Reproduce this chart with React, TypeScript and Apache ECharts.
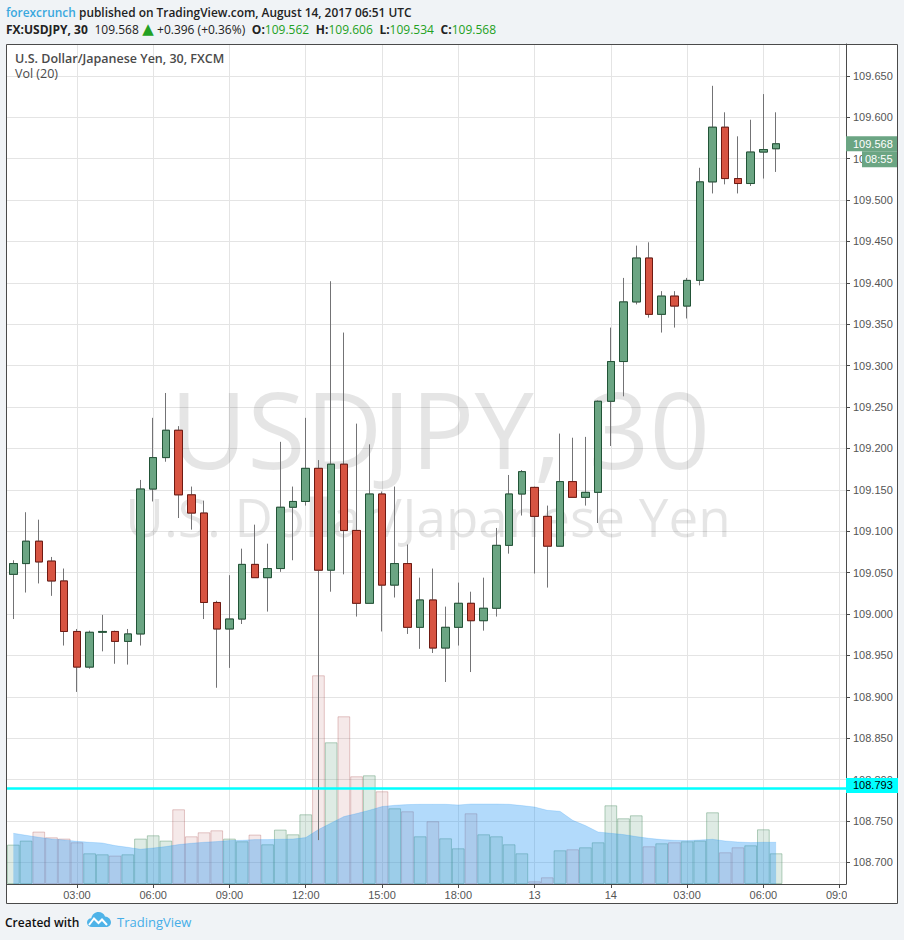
import React, { useEffect, useRef } from "react";
import * as echarts from "echarts";

// ---------- DATA ----------
const categories = [
  "11 00:30", "11 01:00", "11 01:30", "11 02:00", "11 02:30", "11 03:00", "11 03:30", "11 04:00", "11 04:30", "11 05:00",
  "11 05:30", "11 06:00", "11 06:30", "11 07:00", "11 07:30", "11 08:00", "11 08:30", "11 09:00", "11 09:30", "11 10:00",
  "11 10:30", "11 11:00", "11 11:30", "11 12:00", "11 12:30", "11 13:00", "11 13:30", "11 14:00", "11 14:30", "11 15:00",
  "11 15:30", "11 16:00", "11 16:30", "11 17:00", "11 17:30", "11 18:00", "11 18:30", "11 19:00", "11 19:30", "11 20:00",
  "11 20:30", "13 21:00", "13 21:30", "13 22:00", "13 22:30", "13 23:00", "13 23:30", "14 00:00", "14 00:30", "14 01:00",
  "14 01:30", "14 02:00", "14 02:30", "14 03:00", "14 03:30", "14 04:00", "14 04:30", "14 05:00", "14 05:30", "14 06:00",
  "14 06:30", "14 07:00", "14 07:30", "14 08:00", "14 08:30", "14 09:00",
];
const xTickIndex = [5, 11, 17, 23, 29, 35, 41, 47, 53, 59, 65];
const xTickLabels = ["03:00", "06:00", "09:00", "12:00", "15:00", "18:00", "13", "14", "03:00", "06:00", "09:00"];

const opens = [
  109.048, 109.061, 109.088, 109.064, 109.040, 108.979, 108.936, 108.978, 108.979, 108.967,
  108.976, 109.151, 109.189, 109.222, 109.144, 109.122, 109.014, 108.982, 108.994, 109.060,
  109.044, 109.055, 109.129, 109.136, 109.176, 109.053, 109.181, 109.101, 109.013, 109.145,
  109.035, 109.061, 108.984, 109.017, 108.959, 108.984, 109.013, 108.992, 109.007, 109.083,
  109.145, 109.153, 109.118, 109.082, 109.160, 109.141, 109.147, 109.257, 109.305, 109.377,
  109.430, 109.362, 109.384, 109.372, 109.403, 109.522, 109.588, 109.526, 109.520, 109.558,
  109.562,
];
const highs = [
  109.065, 109.123, 109.114, 109.069, 109.055, 108.982, 108.980, 108.999, 108.980, 108.982,
  109.162, 109.237, 109.267, 109.227, 109.154, 109.137, 109.016, 109.047, 109.079, 109.108,
  109.085, 109.208, 109.154, 109.237, 109.186, 109.402, 109.340, 109.230, 109.205, 109.148,
  109.154, 109.084, 109.044, 109.055, 109.009, 109.038, 109.027, 109.044, 109.104, 109.168,
  109.174, 109.154, 109.131, 109.218, 109.213, 109.214, 109.258, 109.346, 109.406, 109.445,
  109.449, 109.390, 109.390, 109.406, 109.539, 109.638, 109.606, 109.577, 109.597, 109.628,
  109.606,
];
const lows = [
  108.994, 109.026, 109.037, 109.022, 108.962, 108.906, 108.934, 108.955, 108.940, 108.939,
  108.962, 109.136, 109.184, 109.116, 109.102, 108.994, 108.911, 108.935, 108.988, 109.044,
  109.003, 109.051, 109.065, 109.131, 108.727, 109.027, 109.048, 108.997, 109.013, 108.979,
  109.020, 108.976, 108.958, 108.953, 108.918, 108.962, 108.930, 108.980, 108.997, 109.073,
  109.119, 109.049, 109.032, 109.082, 109.141, 109.131, 109.110, 109.203, 109.263, 109.374,
  109.358, 109.340, 109.346, 109.357, 109.397, 109.508, 109.519, 109.508, 109.517, 109.526,
  109.534,
];
const closes = [
  109.061, 109.088, 109.063, 109.040, 108.979, 108.936, 108.978, 108.979, 108.967, 108.976,
  109.151, 109.189, 109.222, 109.144, 109.122, 109.014, 108.982, 108.994, 109.060, 109.044,
  109.055, 109.129, 109.136, 109.176, 109.053, 109.181, 109.101, 109.013, 109.145, 109.035,
  109.061, 108.984, 109.017, 108.959, 108.984, 109.013, 108.992, 109.007, 109.083, 109.145,
  109.172, 109.118, 109.082, 109.160, 109.141, 109.147, 109.257, 109.305, 109.377, 109.430,
  109.362, 109.384, 109.372, 109.403, 109.522, 109.588, 109.526, 109.520, 109.558, 109.561,
  109.568,
];
const volumes = [
  394, 434, 524, 467, 454, 417, 307, 297, 284, 297,
  454, 487, 434, 747, 477, 517, 537, 454, 427, 494,
  397, 544, 497, 697, 2087, 1417, 1677, 1077, 1087, 927,
  757, 727, 477, 627, 457, 357, 707, 497, 477, 397,
  307, 27, 67, 337, 347, 367, 417, 787, 657, 687,
  377, 407, 417, 427, 434, 717, 317, 367, 387, 547,
  307,
];
const volumeMA = [
  507, 487, 467, 450, 440, 427, 417, 410, 384, 367,
  347, 360, 374, 394, 407, 417, 424, 434, 437, 444,
  444, 447, 450, 464, 544, 610, 674, 704, 737, 774,
  787, 794, 797, 797, 797, 790, 800, 800, 800, 797,
  784, 770, 737, 727, 637, 584, 520, 507, 494, 474,
  457, 444, 437, 434, 440, 447, 430, 420, 414, 417,
  417,
];
const priceMin = 108.674;
const priceMax = 109.6885;
const volumeAxisMax = 8400;
const lastPrice = 109.568;
const horizontalLevel = 108.793;
const countdownText = "08:55";

// ---------- STYLE ----------
const UP_FILL = "#6ba583";
const UP_BORDER = "#225437";
const DOWN_FILL = "#d75442";
const DOWN_BORDER = "#6f1a12";
const WICK = "#737375";
const GRID = "#e4e4e4";
const AXIS = "#4a4a4a";
const LABEL = "#555555";
const GREEN_TXT = "#23a123";
const DARK_TXT = "#222222";
const CYAN = "#00ffff";
const HEAD_FONT = "'Open Sans', sans-serif";
const AXIS_FONT = "'Liberation Sans', Arial, sans-serif";

const LOGO_D =
  "M5 16 C2 16 0 14 0 11.5 C0 9 2 7.2 4.3 7.2 C5 3.5 8 1 11.5 1 C14.5 1 17 2.8 18 5.4 C21.3 5.6 24 8.2 24 11.2 C24 13.9 21.8 16 19 16 Z";

let logoRegistered = false;

export default function App() {
  const ref = useRef<HTMLDivElement | null>(null);

  useEffect(() => {
    if (!ref.current) return;
    if (!logoRegistered) {
      echarts.graphic.registerShape("tvlogo", echarts.graphic.extendPath(LOGO_D, {}));
      logoRegistered = true;
    }
    const chart = echarts.init(ref.current, undefined, { renderer: "svg" });

    const tickSet = (idx: number) => xTickIndex.indexOf(idx) >= 0;

    const wickData = opens.map((o, i) => [o, closes[i], lows[i], highs[i]]);
    const bodyData = opens.map((o, i) => [o, closes[i], Math.min(o, closes[i]), Math.max(o, closes[i])]);
    const volData = volumes.map((v, i) => {
      const up = closes[i] >= opens[i];
      return {
        value: v,
        itemStyle: {
          color: up ? "rgba(107,165,131,0.22)" : "rgba(175,85,85,0.13)",
          borderColor: up ? "rgba(90,150,110,0.45)" : "rgba(175,85,85,0.32)",
          borderWidth: 1,
        },
      };
    });

    const baseGraphic: any[] = [
      { id: "bg", type: "rect", z: -20, silent: true, shape: { x: 6, y: 44, width: 892, height: 859 }, style: { fill: "#ffffff" } },
      {
        id: "wm1", type: "text", z: 1, silent: true, x: 440, y: 428,
        style: { text: "USDJPY, 30", fill: "rgba(0,0,0,0.1)", fontSize: 106, fontFamily: HEAD_FONT, textAlign: "center", align: "center", textVerticalAlign: "middle", verticalAlign: "middle" },
      },
      {
        id: "wm2", type: "text", z: 1, silent: true, x: 428, y: 516,
        style: { text: "U.S. Dollar/Japanese Yen", fill: "rgba(0,0,0,0.1)", fontSize: 53, fontFamily: HEAD_FONT, textAlign: "center", align: "center", textVerticalAlign: "middle", verticalAlign: "middle" },
      },
      {
        id: "h1", type: "text", z: 50, silent: true, x: 6, y: 12,
        style: {
          text: "{a|forexcrunch} {b|published on TradingView.com, August 14, 2017 06:51 UTC}",
          textVerticalAlign: "middle", verticalAlign: "middle",
          rich: {
            a: { fill: "#3aa8de", color: "#3aa8de", fontSize: 11.9, fontWeight: 600, fontFamily: HEAD_FONT },
            b: { fill: DARK_TXT, color: DARK_TXT, fontSize: 11.9, fontWeight: 600, fontFamily: HEAD_FONT },
          },
        },
      },
      {
        id: "h2", type: "text", z: 50, silent: true, x: 6, y: 29,
        style: {
          text: "{b|FX:USDJPY, 30}  {n|109.568} {t|▲} {n|+0.396 (+0.36%)}  {b|O:}{g|109.562}  {b|H:}{g|109.606}  {b|L:}{g|109.534}  {b|C:}{g|109.568}",
          textVerticalAlign: "middle", verticalAlign: "middle",
          rich: {
            b: { fill: DARK_TXT, color: DARK_TXT, fontSize: 12, fontWeight: 700, fontFamily: HEAD_FONT },
            n: { fill: DARK_TXT, color: DARK_TXT, fontSize: 12, fontWeight: 400, fontFamily: HEAD_FONT },
            g: { fill: GREEN_TXT, color: GREEN_TXT, fontSize: 12, fontWeight: 400, fontFamily: HEAD_FONT },
            t: { fill: GREEN_TXT, color: GREEN_TXT, fontSize: 15, fontWeight: 400, fontFamily: "'DejaVu Sans', sans-serif" },
          },
        },
      },
      {
        id: "lg1", type: "text", z: 50, silent: true, x: 15, y: 58,
        style: { text: "U.S. Dollar/Japanese Yen, 30, FXCM", fill: "#4a4a4a", fontSize: 12.5, fontWeight: 600, fontFamily: HEAD_FONT, textVerticalAlign: "middle", verticalAlign: "middle" },
      },
      {
        id: "lg2", type: "text", z: 50, silent: true, x: 15, y: 73,
        style: { text: "Vol (20)", fill: "#4a4a4a", fontSize: 12.5, fontWeight: 400, fontFamily: HEAD_FONT, textVerticalAlign: "middle", verticalAlign: "middle" },
      },
      { id: "clip", type: "rect", z: 100, silent: true, shape: { x: 847, y: 885, width: 50, height: 17.5 }, style: { fill: "#ffffff" } },
      { id: "frame", type: "rect", z: 101, silent: true, shape: { x: 6.5, y: 44.5, width: 891, height: 859 }, style: { fill: "none", stroke: AXIS, lineWidth: 1 } },
      {
        id: "f1", type: "text", z: 50, silent: true, x: 5, y: 922,
        style: { text: "Created with", fill: "#111", fontSize: 12, fontWeight: 600, fontFamily: HEAD_FONT, textVerticalAlign: "middle", verticalAlign: "middle" },
      },
      { id: "logo", type: "tvlogo", z: 50, silent: true, x: 87, y: 911, scaleX: 1, scaleY: 1, style: { fill: "#4fb3e8" } },
      {
        id: "logoz", type: "polyline", z: 51, silent: true,
        shape: { points: [[89, 925], [94, 918.5], [98.5, 923], [102, 919.5], [107, 925]] },
        style: { stroke: "#ffffff", lineWidth: 2, fill: "none" },
      },
      {
        id: "f2", type: "text", z: 50, silent: true, x: 117, y: 922,
        style: { text: "TradingView", fill: "#45aee8", fontSize: 13, fontWeight: 400, fontFamily: HEAD_FONT, textVerticalAlign: "middle", verticalAlign: "middle" },
      },
    ];

    const option: any = {
      animation: false,
      backgroundColor: "#f0f3f6",
      grid: { left: 7, right: 58, top: 44, bottom: 56, containLabel: false },
      xAxis: {
        type: "category",
        data: categories,
        boundaryGap: true,
        axisLine: { show: true, lineStyle: { color: AXIS, width: 1 } },
        axisTick: { show: true, alignWithLabel: true, interval: (i: number) => tickSet(i), length: 4, lineStyle: { color: AXIS } },
        axisLabel: {
          interval: (i: number) => tickSet(i),
          formatter: (_v: string, i: number) => {
            const k = xTickIndex.indexOf(i);
            return k >= 0 ? xTickLabels[k] : "";
          },
          color: LABEL,
          fontSize: 11,
          fontFamily: AXIS_FONT,
          margin: 5,
          hideOverlap: false,
        },
        splitLine: { show: true, alignWithLabel: true, interval: (i: number) => tickSet(i), lineStyle: { color: GRID, width: 1 } },
      },
      yAxis: [
        {
          type: "value",
          position: "right",
          min: priceMin,
          max: priceMax,
          splitNumber: 20,
          scale: true,
          axisLine: { show: true, lineStyle: { color: AXIS, width: 1 } },
          axisTick: { show: true, length: 4, lineStyle: { color: AXIS } },
          axisLabel: {
            formatter: (v: number) => v.toFixed(3),
            color: LABEL,
            fontSize: 11,
            fontFamily: AXIS_FONT,
            margin: 7,
            showMinLabel: false,
            showMaxLabel: false,
          },
          splitLine: { show: true, lineStyle: { color: GRID, width: 1 } },
        },
        { type: "value", min: 0, max: volumeAxisMax, show: false, splitLine: { show: false } },
      ],
      series: [
        {
          name: "Volume",
          type: "bar",
          xAxisIndex: 0,
          yAxisIndex: 1,
          data: volData,
          barCategoryGap: "0%",
          barGap: "0%",
          silent: true,
          z: 2,
        },
        {
          name: "Vol MA 20",
          type: "line",
          xAxisIndex: 0,
          yAxisIndex: 1,
          data: volumeMA,
          showSymbol: false,
          symbol: "none",
          silent: true,
          lineStyle: { width: 1, color: "rgba(33,150,243,0.2)" },
          areaStyle: { color: "rgba(33,150,243,0.35)", opacity: 1 },
          z: 3,
        },
        {
          name: "Wicks",
          type: "candlestick",
          data: wickData,
          barWidth: 8,
          silent: true,
          itemStyle: { color: "transparent", color0: "transparent", borderColor: WICK, borderColor0: WICK, borderWidth: 1 },
          z: 4,
        },
        {
          name: "USDJPY",
          type: "candlestick",
          data: bodyData,
          barWidth: 8,
          silent: true,
          itemStyle: { color: UP_FILL, color0: DOWN_FILL, borderColor: UP_BORDER, borderColor0: DOWN_BORDER, borderWidth: 1 },
          z: 5,
          markLine: {
            silent: true,
            symbol: ["none", "none"],
            animation: false,
            lineStyle: { color: CYAN, width: 2.5, type: "solid" },
            label: { show: false },
            data: [{ yAxis: horizontalLevel }],
          },
        },
      ],
      graphic: { elements: baseGraphic },
    };

    chart.setOption(option);

    const yPrice = chart.convertToPixel({ yAxisIndex: 0 }, lastPrice) as number;
    const yLevel = chart.convertToPixel({ yAxisIndex: 0 }, horizontalLevel) as number;
    const badgeText = (id: string, x: number, y: number, text: string, fill: string) => ({
      id, type: "text", z: 111, silent: true, x, y,
      style: { text, fill, fontSize: 11, fontFamily: AXIS_FONT, textVerticalAlign: "middle", verticalAlign: "middle" },
    });
    chart.setOption({
      graphic: {
        elements: [
          { id: "pb", type: "rect", z: 110, silent: true, shape: { x: 846, y: yPrice - 7.5, width: 51, height: 15 }, style: { fill: UP_FILL } },
          badgeText("pt", 853, yPrice, lastPrice.toFixed(3), "#ffffff"),
          { id: "cb", type: "rect", z: 110, silent: true, shape: { x: 862, y: yPrice + 7.5, width: 35, height: 16 }, style: { fill: UP_FILL } },
          badgeText("ct", 865, yPrice + 15.5, countdownText, "#ffffff"),
          { id: "lb", type: "rect", z: 110, silent: true, shape: { x: 846, y: yLevel - 7.5, width: 52, height: 15 }, style: { fill: CYAN } },
          badgeText("lt", 853, yLevel, horizontalLevel.toFixed(3), "#000000"),
        ],
      },
    });

    return () => chart.dispose();
  }, []);

  return (
    <div
      ref={ref}
      style={{ position: "absolute", left: 0, top: 0, width: 904, height: 940 }}
    />
  );
}
